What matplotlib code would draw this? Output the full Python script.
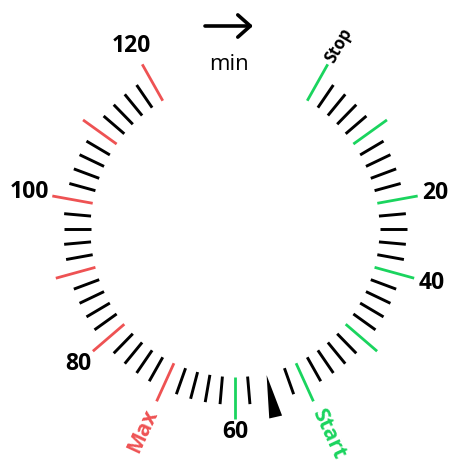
import numpy as np
import matplotlib
matplotlib.use("Agg")
import matplotlib.pyplot as plt
from matplotlib.patches import Polygon

# ---- data ----
minutes = list(range(0, 121, 2))          # tick positions (min)
major_minutes = list(range(0, 121, 10))   # long ticks
hidden_minutes = [54, 56]                 # covered by the pointer
pointer_minute = 55
label_texts = ["20", "40", "60", "80", "100", "120"]
label_minutes = [20, 30, 60, 80, 100, 120]
green_limit = 60                          # <= this: green, else red
word_texts = ["Stop", "Start", "Max"]
word_minutes = [0, 50, 70]

# ---- style ----
W, H = 453, 470
CX, CY = 235.0, 229.0
SY = 1.025
R_IN, R_SHORT, R_LONG = 144.5, 171.5, 185.5
GREEN = "#1AD45E"
RED = "#EE5253"
FONT = "Open Sans"

def ang(m):
    return np.deg2rad(60.0 - 2.5 * m)

def pt(m, r):
    a = ang(m)
    return CX + r * np.cos(a), CY - SY * r * np.sin(a)

fig = plt.figure(figsize=(W / 100, H / 100), dpi=100)
ax = fig.add_axes([0, 0, 1, 1])
ax.set_xlim(0, W)
ax.set_ylim(H, 0)
ax.axis("off")

for m in minutes:
    if m in hidden_minutes:
        continue
    if m in major_minutes:
        col = GREEN if m <= green_limit else RED
        r2, lw = R_LONG, 2.0
    else:
        col, r2, lw = "black", R_SHORT, 2.1
    x1, y1 = pt(m, R_IN)
    x2, y2 = pt(m, r2)
    ax.plot([x1, x2], [y1, y2], color=col, lw=lw, solid_capstyle="butt")

# pointer triangle
tip = pt(pointer_minute, 146)
b1 = pt(pointer_minute - 0.8, 188)
b2 = pt(pointer_minute + 0.8, 188)
ax.add_patch(Polygon([tip, b1, b2], closed=True, color="black", lw=0))

# numeric labels
for t, m in zip(label_texts, label_minutes):
    a = ang(m)
    w = 12.3 * len(t) / 2
    r = 189.5 + w * abs(np.cos(a)) + 9 * abs(np.sin(a))
    x, y = pt(m, r)
    ax.text(x, y, t, ha="center", va="center", fontsize=16.5,
            fontweight="bold", family=FONT, color="black")

# words along radii
for t, m in zip(word_texts, word_minutes):
    a_deg = 60.0 - 2.5 * m
    col = GREEN if m <= green_limit else RED
    if t == "Stop":
        x, y = pt(m, 189)
        ax.text(x, y, t, ha="left", va="center", rotation=a_deg,
                rotation_mode="anchor", fontsize=12, fontweight="bold",
                family=FONT, color="black")
    else:
        x, y = pt(m, 195)
        if np.cos(np.deg2rad(a_deg)) >= 0:
            ax.text(x, y, t, ha="left", va="center", rotation=a_deg,
                    rotation_mode="anchor", fontsize=15.5, fontweight="bold",
                    family=FONT, color=col)
        else:
            ax.text(x, y, t, ha="right", va="center", rotation=a_deg + 180,
                    rotation_mode="anchor", fontsize=15.5, fontweight="bold",
                    family=FONT, color=col)

# direction hint
ax.annotate("", xy=(253, 26), xytext=(205, 26),
            arrowprops=dict(arrowstyle="->,head_length=0.9,head_width=0.8",
                            lw=2.6, color="black", shrinkA=0, shrinkB=0))
ax.text(229, 64, "min", ha="center", va="center", fontsize=16,
        family=FONT, color="black")

fig.savefig("out.png", dpi=100)
